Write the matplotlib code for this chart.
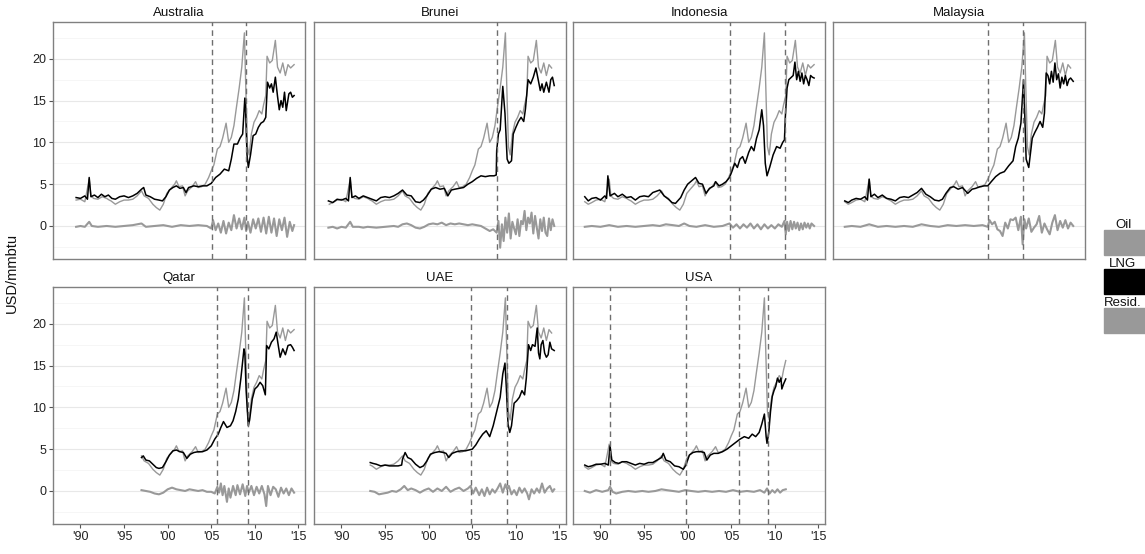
import matplotlib
matplotlib.use("Agg")
import matplotlib.pyplot as plt
import numpy as np
from matplotlib.patches import Rectangle

plt.rcParams['font.family'] = ['Liberation Sans', 'DejaVu Sans']

# oil price (same series in every panel, clipped to the country's date range)
oil_years = [1988.2, 1988.6, 1989.0, 1989.5, 1990.0, 1990.5, 1990.8, 1991.0, 1991.2, 1991.5,
             1992.0, 1992.5, 1993.0, 1993.3, 1993.5, 1994.0, 1994.5, 1995.0, 1995.5, 1996.0,
             1996.5, 1997.0, 1997.3, 1997.8, 1998.3, 1998.7, 1999.1, 1999.5, 1999.9, 2000.3,
             2000.8, 2001.0, 2001.3, 2001.7, 2002.0, 2002.3, 2002.8, 2003.2, 2003.5, 2003.9,
             2004.3, 2004.7, 2005.0, 2005.3, 2005.7, 2006.0, 2006.3, 2006.7, 2007.0, 2007.3,
             2007.6, 2007.9, 2008.2, 2008.5, 2008.8, 2008.95, 2009.15, 2009.35, 2009.6, 2009.9,
             2010.2, 2010.5, 2010.8, 2011.0, 2011.25, 2011.4, 2011.7, 2012.0, 2012.35, 2012.6,
             2012.9, 2013.2, 2013.5, 2013.8, 2014.1, 2014.5]
oil_vals = [2.9, 2.6, 2.8, 3.1, 3.2, 2.9, 4.5, 5.6, 3.6, 3.3,
            3.2, 3.5, 3.3, 3.1, 3.0, 2.6, 2.9, 3.1, 3.1, 3.2,
            3.6, 4.2, 3.6, 3.3, 2.6, 2.2, 1.9, 2.6, 3.9, 4.4,
            5.0, 5.4, 4.7, 4.8, 3.6, 4.2, 4.7, 5.3, 4.6, 4.7,
            5.0, 5.8, 6.6, 7.3, 9.2, 9.5, 10.5, 12.3, 10.0, 10.6,
            12.0, 14.3, 16.5, 19.0, 23.1, 17.0, 9.5, 8.5, 11.0, 12.4,
            13.0, 13.8, 13.4, 14.5, 15.6, 20.3, 19.5, 19.8, 22.2, 19.0,
            18.3, 19.5, 18.0, 19.3, 18.9, 19.3]

# LNG prices
aus_years = [1989.5, 1990.0, 1990.5, 1990.8, 1991.0, 1991.2, 1991.6, 1992.0, 1992.4, 1992.8,
             1993.2, 1993.6, 1994.0, 1994.5, 1995.0, 1995.5, 1996.0, 1996.5, 1997.0, 1997.25,
             1997.5, 1998.0, 1998.5, 1999.0, 1999.4, 1999.8, 2000.2, 2000.6, 2001.0, 2001.4,
             2001.8, 2002.1, 2002.4, 2003.0, 2003.5, 2004.0, 2004.5, 2005.0, 2005.5, 2006.0,
             2006.5, 2007.0, 2007.3, 2007.6, 2008.0, 2008.3, 2008.6, 2008.85, 2008.95, 2009.1,
             2009.25, 2009.5, 2009.8, 2010.1, 2010.4, 2010.7, 2011.0, 2011.25, 2011.45, 2011.7,
             2011.9, 2012.1, 2012.35, 2012.6, 2012.8, 2013.0, 2013.2, 2013.4, 2013.6, 2013.9,
             2014.1, 2014.3, 2014.5]
aus_lng = [3.4, 3.3, 3.6, 3.2, 5.8, 3.5, 3.7, 3.4, 3.8, 3.5,
           3.7, 3.3, 3.2, 3.5, 3.6, 3.4, 3.6, 3.9, 4.4, 4.6,
           3.7, 3.5, 3.2, 3.1, 3.0, 3.5, 4.3, 4.6, 4.8, 4.5,
           4.6, 4.0, 4.6, 4.8, 4.7, 4.8, 4.8, 5.1, 5.8, 6.2,
           6.8, 6.6, 8.0, 9.8, 9.8, 10.5, 11.0, 15.3, 13.5, 8.5,
           7.0, 8.5, 10.8, 11.0, 11.8, 12.3, 12.5, 13.0, 17.2, 16.5,
           17.0, 16.0, 17.8, 15.5, 13.9, 15.0, 14.2, 16.0, 13.8, 15.8,
           16.0, 15.4, 15.6]

bru_years = [1988.5, 1989.0, 1989.5, 1990.0, 1990.5, 1990.8, 1991.0, 1991.2, 1991.6, 1992.0,
             1992.5, 1993.0, 1993.5, 1994.0, 1994.5, 1995.0, 1995.5, 1996.0, 1996.5, 1997.0,
             1997.5, 1998.0, 1998.5, 1999.0, 1999.4, 1999.8, 2000.3, 2000.8, 2001.3, 2001.8,
             2002.2, 2002.6, 2003.0, 2003.5, 2004.0, 2004.5, 2005.0, 2005.5, 2006.0, 2006.5,
             2007.0, 2007.5, 2007.75, 2007.8, 2008.0, 2008.2, 2008.5, 2008.75, 2009.0, 2009.2,
             2009.5, 2009.7, 2010.0, 2010.3, 2010.6, 2010.9, 2011.1, 2011.4, 2011.7, 2012.0,
             2012.3, 2012.6, 2012.8, 2013.0, 2013.2, 2013.5, 2013.8, 2014.0, 2014.2, 2014.4]
bru_lng = [3.0, 2.8, 3.2, 3.1, 3.3, 3.0, 5.8, 3.4, 3.6, 3.3,
           3.6, 3.4, 3.2, 3.0, 3.4, 3.5, 3.4, 3.6, 3.9, 4.3,
           3.7, 3.6, 2.9, 2.8, 3.1, 3.6, 4.4, 4.6, 4.4, 4.5,
           3.6, 4.3, 4.4, 4.5, 4.6, 5.0, 5.3, 5.7, 6.0, 5.9,
           6.0, 6.0, 6.1, 9.0, 11.0, 11.5, 16.7, 13.5, 8.0, 7.5,
           7.8, 11.0, 11.8, 12.5, 13.0, 12.5, 14.0, 17.5, 17.0, 17.8,
           18.9, 17.3, 16.2, 17.0, 16.0, 17.2, 16.0, 17.5, 17.8, 16.8]

ind_years = [1988.2, 1988.6, 1989.0, 1989.5, 1990.0, 1990.5, 1990.7, 1990.85, 1991.1, 1991.6,
             1992.0, 1992.5, 1993.0, 1993.5, 1994.0, 1994.5, 1995.0, 1995.5, 1996.0, 1996.8,
             1997.3, 1997.8, 1998.2, 1998.6, 1999.2, 1999.6, 2000.0, 2000.9, 2001.3, 2001.7,
             2002.1, 2002.5, 2003.0, 2003.2, 2003.6, 2004.0, 2004.4, 2004.8, 2005.1, 2005.4,
             2005.7, 2006.0, 2006.3, 2006.6, 2007.0, 2007.3, 2007.6, 2007.9, 2008.2, 2008.5,
             2008.7, 2008.9, 2009.1, 2009.4, 2009.8, 2010.2, 2010.6, 2010.9, 2011.1, 2011.2,
             2011.4, 2011.6, 2011.9, 2012.1, 2012.3, 2012.5, 2012.7, 2012.9, 2013.1, 2013.3,
             2013.5, 2013.7, 2013.9, 2014.1, 2014.3, 2014.5]
ind_lng = [3.5, 3.0, 3.3, 3.4, 3.1, 3.6, 3.3, 6.0, 3.6, 3.9,
           3.5, 3.8, 3.4, 3.5, 3.1, 3.5, 3.6, 3.5, 4.0, 4.3,
           3.6, 3.2, 2.8, 2.7, 3.4, 4.3, 5.0, 5.8, 5.1, 5.0,
           3.9, 4.5, 4.8, 5.3, 4.8, 5.0, 5.3, 5.8, 6.6, 7.5,
           7.0, 8.0, 8.3, 7.5, 8.8, 9.5, 9.0, 10.5, 11.5, 13.9,
           12.0, 7.5, 6.0, 7.0, 8.5, 9.5, 9.3, 10.0, 10.3, 13.0,
           16.5, 17.5, 17.8, 18.0, 19.6, 17.5, 18.5, 17.3, 18.3, 17.0,
           18.0, 17.5, 16.8, 18.0, 17.8, 17.7]

mal_years = [1988.2, 1988.6, 1989.0, 1989.5, 1990.0, 1990.5, 1990.8, 1991.0, 1991.2, 1991.6,
             1992.0, 1992.5, 1993.0, 1993.5, 1994.0, 1994.5, 1995.0, 1995.5, 1996.0, 1996.5,
             1997.0, 1997.5, 1998.0, 1998.5, 1999.0, 1999.4, 1999.8, 2000.3, 2000.7, 2001.2,
             2001.7, 2002.3, 2002.8, 2003.2, 2003.7, 2004.2, 2004.6, 2005.0, 2005.5, 2006.0,
             2006.5, 2007.0, 2007.5, 2007.8, 2008.1, 2008.4, 2008.7, 2008.85, 2009.0, 2009.3,
             2009.7, 2010.0, 2010.3, 2010.6, 2010.9, 2011.1, 2011.3, 2011.5, 2011.7, 2011.9,
             2012.1, 2012.3, 2012.5, 2012.7, 2012.9, 2013.1, 2013.3, 2013.5, 2013.7, 2013.9,
             2014.1, 2014.4]
mal_lng = [3.0, 2.8, 3.1, 3.3, 3.2, 3.5, 3.1, 5.6, 3.5, 3.8,
           3.4, 3.7, 3.3, 3.2, 3.0, 3.4, 3.5, 3.4, 3.7, 4.0,
           4.5, 3.8, 3.5, 3.1, 3.0, 3.2, 3.9, 4.6, 4.7, 4.4,
           4.6, 3.9, 4.4, 4.5, 4.7, 4.8, 4.8, 5.3, 5.9, 6.3,
           6.5, 7.2, 7.8, 9.5, 10.5, 12.3, 17.5, 13.0, 8.0, 7.0,
           10.5, 11.2, 11.8, 12.5, 11.8, 13.5, 18.3, 18.0, 17.0, 18.5,
           17.2, 19.5, 17.5, 18.2, 16.5, 17.8, 17.0, 18.0, 16.8, 17.5,
           17.7, 17.3]

qat_years = [1997.0, 1997.2, 1997.5, 1997.9, 1998.3, 1998.7, 1999.0, 1999.4, 1999.8, 2000.2,
             2000.6, 2001.0, 2001.4, 2001.8, 2002.2, 2002.6, 2003.0, 2003.5, 2004.0, 2004.5,
             2005.0, 2005.4, 2005.8, 2006.1, 2006.4, 2006.8, 2007.2, 2007.5, 2007.8, 2008.1,
             2008.4, 2008.75, 2008.85, 2009.0, 2009.25, 2009.4, 2009.7, 2010.0, 2010.3, 2010.6,
             2010.9, 2011.2, 2011.35, 2011.6, 2011.9, 2012.2, 2012.45, 2012.7, 2012.9, 2013.2,
             2013.5, 2013.8, 2014.1, 2014.3, 2014.5]
qat_lng = [4.0, 4.2, 3.7, 3.6, 3.2, 2.8, 2.7, 2.8, 3.5, 4.3,
           4.8, 4.9, 4.7, 4.6, 3.9, 4.4, 4.6, 4.7, 4.7, 4.9,
           5.4, 6.2, 6.8, 7.6, 8.3, 7.6, 7.8, 8.4, 9.5, 11.0,
           13.5, 17.0, 16.5, 12.0, 7.8, 8.5, 11.0, 12.2, 12.5, 13.0,
           12.6, 11.5, 17.4, 17.0, 17.8, 18.2, 19.0, 17.3, 16.0, 17.0,
           16.3, 17.4, 17.5, 17.2, 16.8]

uae_years = [1993.3, 1993.6, 1994.0, 1994.5, 1995.0, 1995.5, 1996.0, 1996.5, 1996.9, 1997.0,
             1997.3, 1997.6, 1998.0, 1998.5, 1999.0, 1999.4, 1999.8, 2000.2, 2000.7, 2001.2,
             2001.7, 2002.0, 2002.3, 2002.7, 2003.2, 2003.7, 2004.2, 2004.6, 2005.0, 2005.4,
             2005.8, 2006.2, 2006.6, 2007.0, 2007.4, 2007.8, 2008.2, 2008.5, 2008.75, 2008.9,
             2009.1, 2009.3, 2009.5, 2009.8, 2010.1, 2010.4, 2010.7, 2011.0, 2011.2, 2011.45,
             2011.7, 2011.9, 2012.2, 2012.45, 2012.6, 2012.75, 2012.9, 2013.1, 2013.3, 2013.5,
             2013.7, 2013.9, 2014.1, 2014.4]
uae_lng = [3.4, 3.3, 3.2, 3.0, 3.1, 3.0, 3.0, 3.0, 3.1, 3.8,
           4.6, 4.0, 3.8, 3.2, 2.8, 3.0, 3.6, 4.4, 4.6, 4.7,
           4.6, 4.5, 4.0, 4.5, 4.7, 4.8, 4.8, 4.9, 5.0, 5.5,
           6.2, 6.8, 7.2, 6.5, 7.8, 9.5, 11.2, 14.0, 15.3, 12.5,
           8.0, 7.0, 7.8, 10.5, 10.8, 11.2, 12.0, 11.5, 13.5, 17.5,
           16.8, 17.5, 17.3, 19.5, 16.5, 15.8, 17.5, 18.0, 16.5, 16.0,
           16.3, 17.8, 17.0, 16.8]

usa_years = [1988.2, 1988.6, 1989.0, 1989.5, 1990.0, 1990.5, 1990.9, 1991.1, 1991.3, 1991.7,
             1992.1, 1992.5, 1993.0, 1993.5, 1994.0, 1994.5, 1995.0, 1995.5, 1996.0, 1996.5,
             1997.0, 1997.2, 1997.5, 1998.0, 1998.5, 1999.0, 1999.5, 1999.8, 2000.2, 2000.6,
             2001.0, 2001.5, 2001.9, 2002.2, 2002.6, 2003.0, 2003.5, 2004.0, 2004.5, 2005.0,
             2005.5, 2006.0, 2006.5, 2007.0, 2007.4, 2007.8, 2008.2, 2008.5, 2008.8, 2009.0,
             2009.1, 2009.3, 2009.5, 2009.7, 2009.9, 2010.1, 2010.3, 2010.5, 2010.7, 2010.8,
             2011.0, 2011.25]
usa_lng = [3.1, 2.9, 3.0, 3.2, 3.2, 3.3, 3.1, 5.4, 3.7, 3.4,
           3.3, 3.5, 3.5, 3.3, 3.1, 3.3, 3.2, 3.4, 3.4, 3.7,
           4.0, 4.5, 3.7, 3.5, 3.0, 2.9, 2.6, 3.1, 4.3, 4.6,
           4.7, 4.7, 4.6, 3.7, 4.3, 4.5, 4.5, 4.7, 5.0, 5.4,
           5.8, 6.2, 6.5, 6.3, 6.8, 6.5, 7.0, 8.0, 9.2, 6.5,
           5.7, 7.0, 9.5, 11.3, 12.0, 12.5, 13.5, 13.0, 13.5, 12.2,
           12.8, 13.4]

# residuals
aus_res_years = [1989.5, 1990.0, 1990.5, 1991.0, 1991.3, 1992.0, 1993.0, 1994.0, 1995.0, 1996.0,
                 1997.0, 1997.5, 1998.5, 1999.5, 2000.5, 2001.5, 2002.5, 2003.5, 2004.5, 2005.0,
                 2005.2, 2005.5, 2005.8, 2006.1, 2006.4, 2006.7, 2007.0, 2007.3, 2007.6, 2007.9,
                 2008.2, 2008.5, 2008.8, 2009.0, 2009.2, 2009.5, 2009.8, 2010.1, 2010.4, 2010.7,
                 2011.0, 2011.3, 2011.6, 2011.9, 2012.2, 2012.5, 2012.8, 2013.1, 2013.4, 2013.7,
                 2014.0, 2014.3, 2014.5]
aus_res = [-0.1, 0.0, -0.1, 0.5, 0.0, -0.1, 0.0, -0.1, 0.0, 0.1,
           0.3, -0.1, 0.0, 0.1, -0.1, 0.1, 0.0, 0.1, 0.0, -0.3,
           0.7, -0.5, 0.3, -0.8, 0.6, -0.9, 0.4, -0.5, 1.3, -0.3,
           0.9, -0.4, 1.0, -0.6, 0.5, -0.8, 0.8, -0.3, 0.9, -0.7,
           1.0, -0.9, 1.1, -0.8, 0.9, -1.2, 0.8, -0.5, 1.0, -1.3,
           0.5, -0.6, 0.1]

bru_res_years = [1988.5, 1989.0, 1989.5, 1990.0, 1990.5, 1991.0, 1991.3, 1992.0, 1992.5, 1993.0,
                 1994.0, 1995.0, 1996.0, 1996.5, 1997.0, 1997.5, 1998.0, 1998.5, 1999.0, 1999.5,
                 2000.0, 2000.5, 2001.0, 2001.5, 2002.0, 2002.5, 2003.0, 2003.5, 2004.0, 2004.5,
                 2005.0, 2005.5, 2006.0, 2006.5, 2007.0, 2007.4, 2007.8, 2008.0, 2008.2, 2008.4,
                 2008.6, 2008.8, 2009.0, 2009.2, 2009.4, 2009.6, 2009.8, 2010.0, 2010.2, 2010.4,
                 2010.6, 2010.8, 2011.0, 2011.2, 2011.4, 2011.6, 2011.8, 2012.0, 2012.2, 2012.4,
                 2012.6, 2012.8, 2013.0, 2013.2, 2013.4, 2013.6, 2013.8, 2014.0, 2014.2, 2014.4]
bru_res = [-0.2, -0.1, -0.3, -0.1, -0.2, 0.5, -0.1, -0.1, -0.2, -0.1,
           -0.2, -0.1, 0.0, -0.1, 0.2, 0.3, 0.1, -0.2, -0.3, -0.1,
           0.2, 0.3, 0.2, 0.4, 0.1, 0.3, 0.2, 0.3, 0.2, 0.1,
           0.2, 0.1, 0.0, -0.3, -0.6, -0.4, -0.8, 0.6, -2.6, 0.2,
           -1.8, 1.0, -0.8, 1.5, -1.5, 0.5, -0.3, -1.0, 0.8, -1.2,
           0.6, 0.2, 1.8, -0.5, 1.0, 0.3, 1.6, -0.9, 1.2, -0.2,
           -1.5, 0.8, -0.6, 1.0, -0.8, -1.2, 0.9, -0.5, 0.8, 0.0]

ind_res_years = [1988.2, 1989.0, 1990.0, 1991.0, 1992.0, 1993.0, 1994.0, 1995.0, 1996.0, 1996.8,
                 1997.5, 1998.3, 1999.0, 1999.6, 2000.2, 2001.0, 2002.0, 2003.0, 2004.0, 2004.8,
                 2005.2, 2005.6, 2006.0, 2006.4, 2006.8, 2007.2, 2007.6, 2008.0, 2008.4, 2008.8,
                 2009.2, 2009.6, 2010.0, 2010.4, 2010.8, 2011.1, 2011.25, 2011.4, 2011.6, 2011.8,
                 2012.0, 2012.2, 2012.4, 2012.6, 2012.8, 2013.0, 2013.2, 2013.4, 2013.6, 2013.8,
                 2014.0, 2014.2, 2014.5]
ind_res = [-0.1, 0.0, -0.1, 0.1, -0.1, 0.0, -0.1, 0.0, 0.1, 0.0,
           0.2, 0.1, 0.0, 0.3, 0.0, -0.1, 0.1, -0.1, 0.0, 0.3,
           -0.2, 0.2, -0.3, 0.2, -0.2, 0.3, -0.3, 0.2, -0.4, 0.2,
           -0.3, 0.1, -0.3, 0.2, -0.1, 0.6, -1.0, 0.5, -0.6, 0.6,
           -0.4, 0.5, -0.3, 0.4, -0.5, 0.3, -0.4, 0.4, -0.2, 0.3,
           -0.3, 0.3, 0.0]

mal_res_years = [1988.2, 1989.0, 1990.0, 1991.0, 1992.0, 1993.0, 1994.0, 1995.0, 1996.0, 1997.0,
                 1998.0, 1999.0, 2000.0, 2001.0, 2002.0, 2003.0, 2004.0, 2004.6, 2004.8, 2005.1,
                 2005.4, 2005.7, 2006.0, 2006.3, 2006.6, 2006.9, 2007.2, 2007.5, 2007.8, 2008.1,
                 2008.4, 2008.6, 2008.8, 2009.0, 2009.3, 2009.6, 2009.9, 2010.2, 2010.5, 2010.8,
                 2011.1, 2011.4, 2011.7, 2012.0, 2012.3, 2012.6, 2012.9, 2013.2, 2013.5, 2013.8,
                 2014.1, 2014.4]
mal_res = [-0.1, 0.0, -0.1, 0.2, -0.1, 0.0, -0.1, 0.0, -0.1, 0.2,
           0.0, -0.1, 0.1, 0.0, 0.1, 0.0, 0.1, -0.1, 0.7, 0.2,
           0.5, -0.4, -0.6, -1.2, 0.4, -0.3, 0.8, 0.7, 1.0, -0.5,
           1.1, -2.2, 0.8, -0.3, 0.9, -0.7, -0.2, 0.2, 1.2, -0.8,
           0.3, -0.4, -1.0, 0.4, 1.3, -0.5, 0.6, -0.2, 0.7, -0.3,
           0.4, 0.0]

qat_res_years = [1997.0, 1997.5, 1998.0, 1998.5, 1999.0, 1999.5, 2000.0, 2000.5, 2001.0, 2001.5,
                 2002.0, 2002.5, 2003.0, 2003.5, 2004.0, 2004.5, 2005.0, 2005.4, 2005.7, 2005.9,
                 2006.1, 2006.3, 2006.5, 2006.8, 2007.0, 2007.2, 2007.5, 2007.8, 2008.0, 2008.3,
                 2008.6, 2008.9, 2009.1, 2009.3, 2009.6, 2009.9, 2010.2, 2010.5, 2010.8, 2011.1,
                 2011.3, 2011.5, 2011.8, 2012.1, 2012.4, 2012.7, 2013.0, 2013.3, 2013.6, 2013.9,
                 2014.2, 2014.5]
qat_res = [0.1, 0.0, -0.1, -0.3, -0.4, -0.2, 0.2, 0.4, 0.2, 0.1,
           0.0, 0.2, 0.1, 0.0, 0.1, -0.1, -0.1, -0.3, 0.5, -0.2,
           0.9, -0.5, 0.6, -1.3, 0.3, -0.8, 0.6, -0.5, 0.7, -0.4,
           0.8, -0.6, 0.6, -0.2, 0.6, -0.5, 0.5, -0.3, 0.6, -0.4,
           -1.8, 0.6, -0.5, 0.5, 0.2, -0.7, 0.4, -0.3, 0.3, -0.5,
           0.3, -0.2]

uae_res_years = [1993.3, 1993.8, 1994.3, 1994.8, 1995.3, 1995.8, 1996.3, 1996.8, 1997.2, 1997.6,
                 1998.0, 1998.5, 1999.0, 1999.5, 2000.0, 2000.5, 2001.0, 2001.5, 2002.0, 2002.5,
                 2003.0, 2003.5, 2004.0, 2004.5, 2004.8, 2005.1, 2005.4, 2005.8, 2006.1, 2006.4,
                 2006.7, 2007.0, 2007.3, 2007.6, 2007.9, 2008.2, 2008.5, 2008.8, 2009.0, 2009.2,
                 2009.5, 2009.8, 2010.1, 2010.4, 2010.7, 2011.0, 2011.3, 2011.5, 2011.8, 2012.1,
                 2012.4, 2012.7, 2013.0, 2013.3, 2013.6, 2013.9, 2014.2, 2014.4]
uae_res = [0.0, -0.1, -0.4, -0.3, -0.2, 0.0, -0.1, 0.2, 0.6, 0.1,
           0.3, 0.1, -0.2, 0.1, 0.3, -0.1, 0.3, 0.0, 0.5, -0.1,
           0.2, 0.4, 0.0, 0.3, 0.6, -0.3, 0.4, -0.5, 0.2, -0.6,
           0.4, -0.4, 0.2, -0.2, 0.3, 0.9, -0.2, 0.8, 0.2, 0.6,
           -0.4, 0.1, -0.5, 0.4, -0.2, 0.3, -0.3, -1.0, 0.2, -0.3,
           0.3, -0.2, 0.9, -0.2, 0.3, 0.6, -0.1, 0.2]

usa_res_years = [1988.2, 1988.8, 1989.5, 1990.2, 1990.9, 1991.1, 1991.4, 1991.8, 1992.5, 1993.2,
                 1994.0, 1994.8, 1995.5, 1996.3, 1997.0, 1997.6, 1998.3, 1999.0, 1999.7, 2000.4,
                 2001.2, 2002.0, 2002.8, 2003.6, 2004.4, 2005.2, 2006.0, 2006.8, 2007.6, 2008.3,
                 2008.8, 2009.1, 2009.4, 2009.7, 2010.0, 2010.3, 2010.6, 2010.9, 2011.25]
usa_res = [0.0, -0.2, 0.1, -0.1, 0.1, 0.5, -0.1, -0.3, -0.1, 0.0,
           -0.1, 0.0, -0.1, 0.0, 0.2, 0.1, 0.0, -0.1, 0.1, 0.0,
           -0.1, 0.0, -0.1, 0.0, -0.1, 0.1, -0.1, 0.0, -0.1, 0.1,
           -0.2, 0.3, -0.3, 0.1, -0.2, 0.2, -0.2, 0.1, 0.2]

# estimated break dates
aus_breaks = [2005.1, 2008.95]
bru_breaks = [2007.8]
ind_breaks = [2004.9, 2011.15]
mal_breaks = [2004.6, 2008.65]
qat_breaks = [2005.65, 2009.25]
uae_breaks = [2004.8, 2009.0]
usa_breaks = [1991.1, 1999.8, 2005.9, 2009.2]

countries = ["Australia", "Brunei", "Indonesia", "Malaysia", "Qatar", "UAE", "USA"]
panels = [
    (aus_years, aus_lng, aus_res_years, aus_res, aus_breaks),
    (bru_years, bru_lng, bru_res_years, bru_res, bru_breaks),
    (ind_years, ind_lng, ind_res_years, ind_res, ind_breaks),
    (mal_years, mal_lng, mal_res_years, mal_res, mal_breaks),
    (qat_years, qat_lng, qat_res_years, qat_res, qat_breaks),
    (uae_years, uae_lng, uae_res_years, uae_res, uae_breaks),
    (usa_years, usa_lng, usa_res_years, usa_res, usa_breaks),
]

xticks = [1990, 1995, 2000, 2005, 2010, 2015]
xticklabels = ["'90", "'95", "'00", "'05", "'10", "'15"]

GREY = '#999999'
W, H = 1145, 554
col_left = [53, 314, 573, 833]
row_span = [(22, 259), (287, 524)]
panel_w = 252

fig = plt.figure(figsize=(W / 100, H / 100), dpi=100)
oy = np.array(oil_years)
ov = np.array(oil_vals)

for i, (name, (yrs, lng, ryrs, res, brks)) in enumerate(zip(countries, panels)):
    r, c = divmod(i, 4)
    top, bot = row_span[r]
    ax = fig.add_axes([col_left[c] / W, 1 - bot / H, panel_w / W, (bot - top) / H])

    for v in [0, 5, 10, 15, 20]:
        ax.axhline(v, color='#e8e8e8', lw=0.8, zorder=0)
    for v in [-2.5, 2.5, 7.5, 12.5, 17.5, 22.5]:
        ax.axhline(v, color='#f6f6f6', lw=0.7, zorder=0)

    m = (oy >= yrs[0] - 0.01) & (oy <= yrs[-1] + 0.01)
    ax.plot(ryrs, res, color=GREY, lw=1.5, zorder=2)
    ax.plot(oy[m], ov[m], color=GREY, lw=1.0, zorder=3)
    ax.plot(yrs, lng, color='black', lw=1.1, zorder=4)
    for b in brks:
        ax.axvline(b, color='#6e6e6e', lw=1.0, ls=(0, (4, 3)), zorder=5)

    ax.set_xlim(1986.85, 2015.75)
    ax.set_ylim(-3.95, 24.4)
    ax.set_yticks([0, 5, 10, 15, 20])
    ax.set_xticks(xticks)
    ax.set_xticklabels(xticklabels)
    ax.tick_params(length=3, width=0.8, color='#555555', labelsize=9,
                   labelcolor='#222222', pad=2)
    if c != 0:
        ax.tick_params(left=False, labelleft=False)
    if r == 0:
        ax.tick_params(bottom=False, labelbottom=False)
    for s in ax.spines.values():
        s.set_color('#808080')
        s.set_linewidth(1.0)

    ax.text(0.5, 1 + 9 / (bot - top), name, transform=ax.transAxes,
            ha='center', va='center', fontsize=9.5, color='#111111')

fig.text(12 / W, 1 - 273 / H, 'USD/mmbtu', rotation=90, ha='center', va='center',
         fontsize=10.5, color='#111111')

# legend: label above each colour box
legend_items = [("Oil", GREY), ("LNG", 'black'), ("Resid.", GREY)]
for k, (lab, col) in enumerate(legend_items):
    box_top = 230 + k * 39
    fig.text(1123 / W, 1 - (box_top - 5) / H, lab, ha='center', va='center',
             fontsize=9.5, color='#111111')
    fig.patches.append(Rectangle((1104 / W, 1 - (box_top + 25) / H), 41 / W, 25 / H,
                                 transform=fig.transFigure, color=col, zorder=1))

fig.savefig('out.png', dpi=100)
